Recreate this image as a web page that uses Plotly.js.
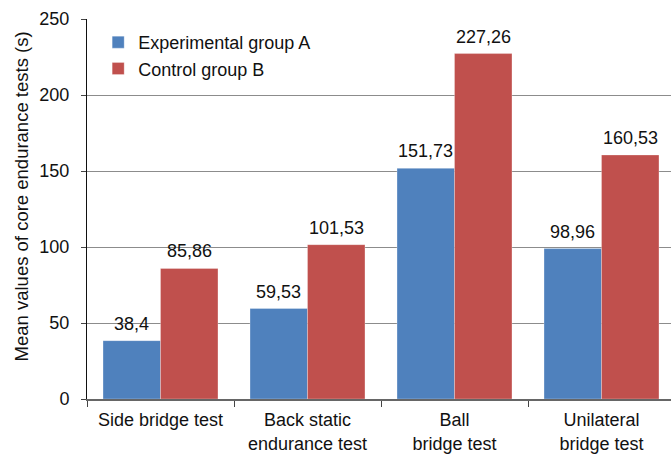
<!DOCTYPE html>
<html>
<head>
<meta charset="utf-8">
<script src="https://cdn.plot.ly/plotly-3.0.1.min.js"></script>
<style>
html,body{margin:0;padding:0;overflow:hidden;background:#fff;}
#chart{width:675px;height:454px;}
</style>
</head>
<body>
<div id="chart"></div>
<script>
const categories = ["Side bridge test", "Back static<br>endurance test", "Ball<br>bridge test", "Unilateral<br>bridge test"];
const groupA = [38.4, 59.53, 151.73, 98.96];
const groupB = [85.86, 101.53, 227.26, 160.53];
const seriesNames = ["Experimental group A", "Control group B"];
const yTicks = [0, 50, 100, 150, 200, 250];

const fmt = v => String(v).replace('.', ',');
const font = "Liberation Sans, Arial, Helvetica, sans-serif";
const halfBar = 28.7;

const traces = [
  {type:'bar', name:seriesNames[0], x:categories, y:groupA,
   marker:{color:'#4F81BD', line:{color:'rgba(255,255,255,0.35)', width:0.8}}, hoverinfo:'none'},
  {type:'bar', name:seriesNames[1], x:categories, y:groupB,
   marker:{color:'#C0504D', line:{color:'rgba(255,255,255,0.35)', width:0.8}}, hoverinfo:'none'}
];

const labelAnns = [];
[groupA, groupB].forEach((vals, s) => {
  vals.forEach((v, i) => {
    labelAnns.push({text:fmt(v), x:categories[i], y:v, xref:'x', yref:'y',
      xanchor:'center', yanchor:'bottom', xshift:(s === 0 ? -halfBar : halfBar), yshift:5,
      showarrow:false, font:{size:18, color:'#111', family:font}});
  });
});

const layout = {
  width:675, height:454,
  margin:{l:87, r:0, t:19, b:55},
  paper_bgcolor:'#fff', plot_bgcolor:'#fff',
  font:{family:font, size:18, color:'#111'},
  separators:',.',
  barmode:'group', bargap:0.218, bargroupgap:0,
  showlegend:true,
  legend:{x:0.019, y:0.987, xanchor:'left', yanchor:'top', bgcolor:'rgba(0,0,0,0)',
          font:{size:18, family:font, color:'#111'}, tracegroupgap:0},
  xaxis:{type:'category', showgrid:false, showline:true, linecolor:'#666', linewidth:1.5,
         ticks:'outside', tickson:'boundaries', ticklen:6, tickcolor:'#444', tickwidth:1,
         ticklabelstandoff:4,
         tickfont:{size:18, color:'#111'}, fixedrange:true},
  yaxis:{range:[0,250], tickvals:yTicks, showgrid:true, gridcolor:'#8c8c8c', gridwidth:1,
         showline:true, linecolor:'#111', linewidth:1, zeroline:false,
         ticks:'outside', ticklen:5, tickcolor:'#444', ticklabelstandoff:8,
         tickfont:{size:18, color:'#111'}, fixedrange:true},
  annotations:labelAnns.concat([{text:'Mean values of core endurance tests (s)', textangle:-90,
                xref:'paper', yref:'paper', x:0, y:0.533, xanchor:'center', yanchor:'middle',
                xshift:-66, showarrow:false, font:{size:18.5, color:'#111', family:font}}])
};

Plotly.newPlot('chart', traces, layout, {displayModeBar:false, staticPlot:true});
</script>
</body>
</html>
